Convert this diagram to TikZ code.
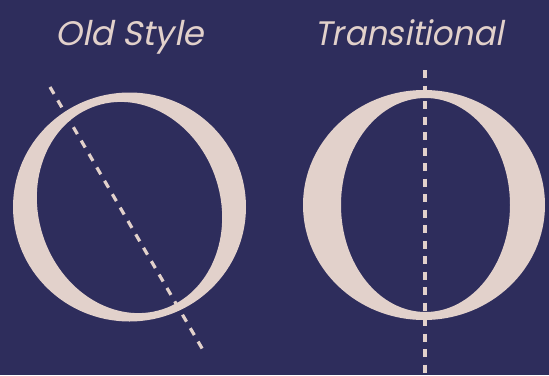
\documentclass[tikz,border=0pt]{standalone}
\usepackage{fontspec}
\newfontfamily\titlefont{Poppins}[FakeSlant=0.2]
\definecolor{navy}{HTML}{2E2D5C}
\definecolor{blush}{HTML}{E2D1CB}
\begin{document}
\begin{tikzpicture}[x=1pt, y=-1pt, line join=round,
		title/.style={text=blush, anchor=base, inner sep=0pt, font=\titlefont\fontsize{34}{34}\selectfont},
		axisline/.style={draw=blush, line width=3.2pt, dash pattern=on 8pt off 7.5pt}]
			\fill[navy] (0,0) rectangle (549,375);
			\useasboundingbox (0,0) rectangle (549,375);
			% titles
			\node[title] (oldtitle) at (129.5,45) {Old Style};
			\node[title, xscale=0.96] (transtitle) at (409,45) {Transitional};
			% old style O, tilted stress
			\fill[blush, even odd rule] (129.5,207) ellipse [x radius=116.5, y radius=114.5]
				(129.5,207.5) ellipse [x radius=107, y radius=91, rotate=-72];
			% transitional O, vertical stress
			\fill[blush, even odd rule] (424,205) ellipse [x radius=121, y radius=115]
				(425.5,205) ellipse [x radius=84.5, y radius=107];
			% stress axes
			\coordinate (oldtop) at (50,87);
			\coordinate (oldbot) at (203,350);
			\coordinate (transtop) at (425,70);
			\coordinate (transbot) at (425,375);
			\draw[axisline] (oldtop) -- (oldbot);
			\draw[axisline] (transtop) -- (transbot);
		\end{tikzpicture}
\end{document}
